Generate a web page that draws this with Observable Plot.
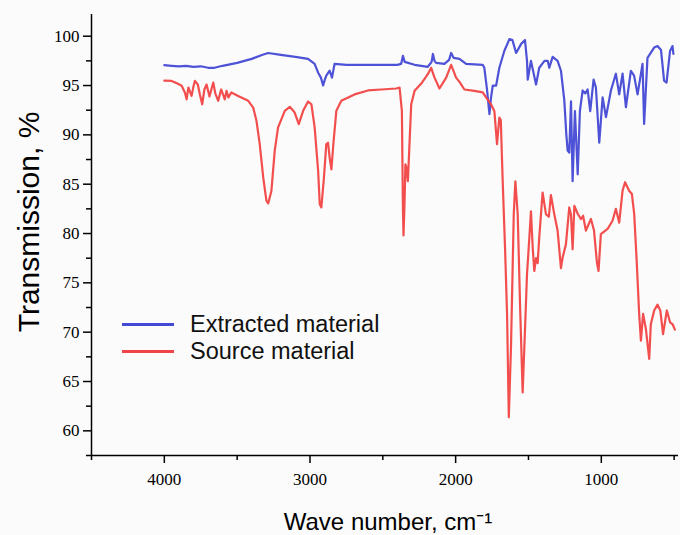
<!DOCTYPE html>
<html>
<head>
<meta charset="utf-8">
<script src="https://cdn.jsdelivr.net/npm/d3@7"></script>
<script src="https://cdn.jsdelivr.net/npm/@observablehq/plot@0.6"></script>
<style>
  html, body { margin: 0; padding: 0; background: #fbfbfb; }
  #wrap { position: relative; width: 680px; height: 535px; overflow: hidden; }
  .leg { position: absolute; left: 122px; font-family: "Liberation Sans", Arial, sans-serif; font-size: 23.5px; color: #111; }
  .leg .row { position: relative; height: 27px; display: flex; align-items: center; }
  .leg .sw { width: 52px; height: 2.5px; margin-right: 16px; }
  .ytitle { position: absolute; left: 29px; top: 222px; transform: translate(-50%, -50%) rotate(-90deg); white-space: nowrap;
            font-family: "Liberation Sans", Arial, sans-serif; font-size: 30px; color: #000; line-height: 1; }
</style>
</head>
<body>
<div id="wrap"></div>
<script>
// Extracted material (blue)
const extractedWave = [4000,3950,3900,3850,3800,3750,3700,3655,3600,3500,3400,3330,3287,3200,3100,3013,2968,2944,2925,2910,2898,2888,2865,2849,2831,2750,2600,2500,2400,2374,2362,2350,2282,2191,2165,2156,2145,2134,2077,2045,2031,2013,1974,1928,1814,1803,1784,1768,1757,1745,1722,1700,1666,1631,1610,1585,1551,1524,1510,1505,1483,1448,1426,1390,1368,1357,1334,1300,1277,1254,1240,1231,1220,1208,1197,1181,1162,1147,1128,1110,1094,1076,1053,1037,1014,991,968,934,900,877,854,831,797,775,751,717,706,683,637,614,590,569,552,528,511,505];
const extractedT = [97.06,97.0,96.95,97.0,96.9,96.95,96.8,96.8,97.0,97.3,97.7,98.1,98.3,98.1,97.9,97.7,97.2,96.3,95.8,95.0,95.6,96.0,96.5,95.8,97.2,97.1,97.1,97.1,97.1,97.2,98.0,97.4,97.1,96.9,97.4,98.2,97.5,97.3,97.2,97.6,98.3,97.8,97.7,97.2,97.1,96.8,94.5,92.1,93.8,95.0,95.0,96.8,98.5,99.7,99.6,98.3,99.2,99.6,97.5,95.6,97.5,95.1,96.8,97.5,97.5,96.8,97.9,97.5,96.5,93.5,90.0,88.4,88.2,93.4,85.3,92.4,86.0,92.4,94.5,94.2,94.6,92.4,95.6,94.8,89.2,93.8,91.8,94.5,96.2,94.1,96.2,92.8,96.5,96.0,94.1,97.2,91.1,97.8,98.85,99.0,98.6,95.5,95.3,98.5,99.0,98.2];

// Source material (red)
const sourceWave = [4000,3950,3910,3881,3859,3847,3835,3813,3800,3790,3770,3756,3740,3725,3710,3690,3664,3650,3630,3610,3585,3573,3560,3540,3493,3424,3390,3367,3345,3321,3299,3287,3265,3242,3219,3173,3139,3105,3077,3047,3013,2990,2968,2944,2933,2922,2905,2888,2876,2865,2853,2840,2819,2785,2694,2602,2511,2408,2385,2369,2362,2358,2351,2345,2340,2328,2305,2282,2236,2191,2168,2145,2111,2065,2031,1997,1970,1940,1871,1814,1791,1757,1734,1716,1700,1690,1677,1661,1647,1635,1620,1601,1590,1574,1556,1540,1524,1510,1494,1483,1471,1460,1448,1437,1426,1403,1380,1360,1346,1323,1300,1277,1265,1243,1220,1208,1197,1185,1162,1140,1125,1106,1071,1050,1030,1019,1003,957,923,900,877,854,837,809,790,774,756,740,728,713,694,671,660,637,614,595,576,550,528,510,495];
const sourceT = [95.5,95.47,95.2,94.97,94.3,93.6,94.8,93.95,94.9,95.47,95.1,94.1,93.1,94.6,95.1,93.9,95.3,94.2,93.45,94.6,93.6,94.46,93.8,94.3,93.95,93.45,92.77,91.4,89.06,85.68,83.3,83.05,84.3,88.4,90.75,92.44,92.84,92.26,91.09,92.44,93.38,93.1,90.75,86.36,83.0,82.64,85.5,89.06,89.2,87.7,86.5,89.0,92.44,93.45,94.1,94.5,94.6,94.7,94.8,92.4,82.6,79.8,83.0,87.0,86.8,85.3,93.1,94.46,95.2,96.15,96.8,95.8,94.7,95.8,97.1,95.8,95.3,94.6,94.46,94.3,93.8,93.1,92.4,89.06,91.76,91.5,85.3,78.6,71.85,61.38,68.5,81.97,85.3,81.97,71.85,63.9,70.2,75.9,79.6,82.24,78.6,76.2,77.5,77.0,79.6,84.16,81.97,81.7,83.9,81.97,80.3,76.5,77.6,78.9,82.64,81.9,78.4,82.8,82.0,81.47,81.8,80.3,81.47,80.3,77.07,76.2,79.95,80.46,81.3,82.5,81.1,84.33,85.2,84.33,84.0,81.97,76.9,71.85,69.15,71.85,70.33,67.3,70.8,72.2,72.79,72.2,69.8,72.2,71.0,70.8,70.26];

const seriesNames = ["Extracted material", "Source material"];
const seriesColors = ["#4349d4", "#f24444"];

const xTicks = [4000, 3000, 2000, 1000];
const xMinor = [4500, 3500, 2500, 1500, 500];
const yTicks = [60, 65, 70, 75, 80, 85, 90, 95, 100];
const yMinor = [57.5, 62.5, 67.5, 72.5, 77.5, 82.5, 87.5, 92.5, 97.5];

const yTitle = "Transmission, %";
const xTitle = "Wave number, cm\u207B\u00B9";

const extracted = extractedWave.map((w, i) => ({w, t: extractedT[i]}));
const source = sourceWave.map((w, i) => ({w, t: sourceT[i]}));

const serif = "'Liberation Serif', 'Times New Roman', serif";
const sans = "'Liberation Sans', Arial, sans-serif";

const chart = Plot.plot({
  width: 680,
  height: 535,
  marginLeft: 91,
  marginRight: 2,
  marginTop: 14,
  marginBottom: 80,
  style: {background: "transparent", color: "#000", overflow: "visible"},
  x: {domain: [4500, 470]},
  y: {domain: [57.5, 102.2]},
  marks: [
    Plot.axisY(yTicks, {tickSize: 8, tickPadding: 4, fontSize: 17, fontFamily: serif, strokeWidth: 1.5, label: null, tickFormat: d => String(d)}),
    Plot.axisY(yMinor, {tickSize: 5, strokeWidth: 1.5, label: null, tickFormat: () => ""}),
    Plot.axisX(xTicks, {tickSize: 8, tickPadding: 9, fontSize: 17, fontFamily: serif, strokeWidth: 1.5, label: null, tickFormat: d => String(d)}),
    Plot.axisX(xMinor, {tickSize: 5, strokeWidth: 1.5, label: null, tickFormat: () => ""}),
    Plot.ruleX([4500], {stroke: "#000", strokeWidth: 1.5}),
    Plot.ruleY([57.5], {stroke: "#000", strokeWidth: 1.5}),
    Plot.line(extracted, {x: "w", y: "t", stroke: seriesColors[0], strokeWidth: 2.2, strokeOpacity: 0.95}),
    Plot.line(source, {x: "w", y: "t", stroke: seriesColors[1], strokeWidth: 2.2, strokeOpacity: 0.95}),
    Plot.text([xTitle], {text: d => d, frameAnchor: "bottom", dx: 3, dy: 74, fontSize: 24, fontFamily: sans, fill: "#000"})
  ]
});

const wrap = document.getElementById("wrap");
wrap.appendChild(chart);

const yt = document.createElement("div");
yt.className = "ytitle";
yt.textContent = yTitle;
wrap.appendChild(yt);

const leg = document.createElement("div");
leg.className = "leg";
leg.style.top = "311px";
seriesNames.forEach((name, i) => {
  const row = document.createElement("div");
  row.className = "row";
  const sw = document.createElement("div");
  sw.className = "sw";
  sw.style.background = seriesColors[i];
  const tx = document.createElement("span");
  tx.textContent = name;
  row.appendChild(sw);
  row.appendChild(tx);
  leg.appendChild(row);
});
wrap.appendChild(leg);
</script>
</body>
</html>
